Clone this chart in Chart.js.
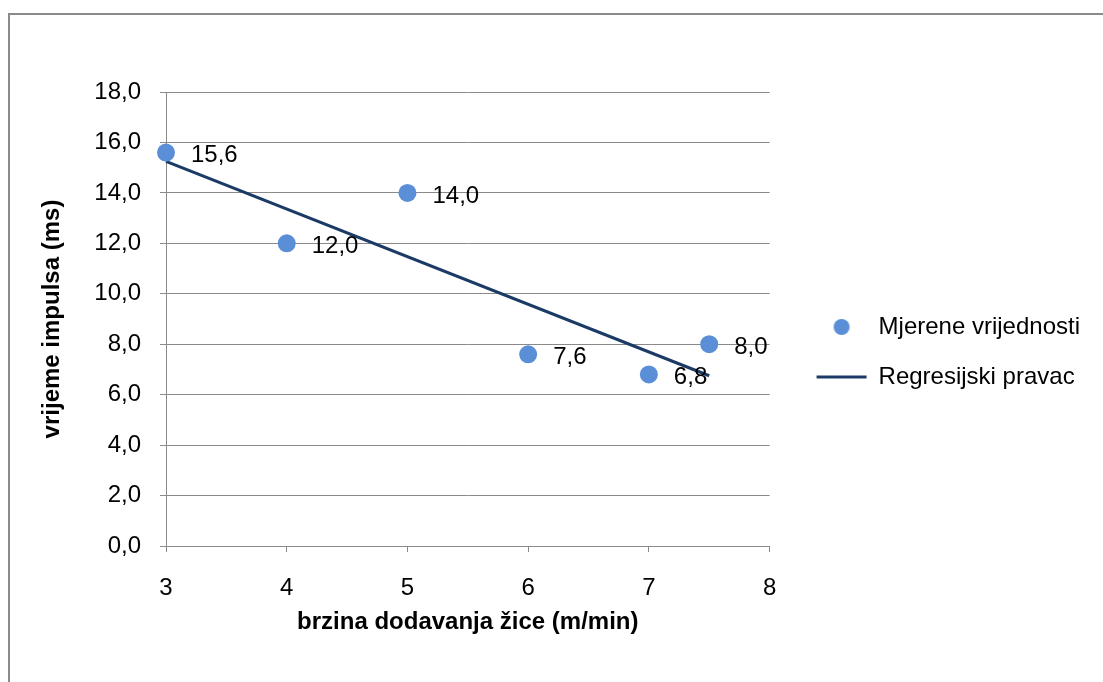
<!DOCTYPE html>
<html>
<head>
<meta charset="utf-8">
<script src="https://cdn.jsdelivr.net/npm/chart.js@4"></script>
<style>
  html, body { margin: 0; padding: 0; background: #fff; overflow: hidden; }
  #frame {
    position: absolute; left: 8px; top: 13px; width: 1100px; height: 700px;
    border: 2px solid #8a8a8a; box-sizing: border-box;
  }
  #wrap { position: absolute; left: 0; top: 0; width: 1103px; height: 682px; overflow: hidden; }
</style>
</head>
<body>
<div id="frame"></div>
<div id="wrap"><canvas id="chart" width="1090" height="682"></canvas></div>
<script>
// measured points
const xValues = [3, 4, 5, 6, 7, 7.5];
const yValues = [15.6, 12.0, 14.0, 7.6, 6.8, 8.0];
// regression line end points
const regX = [3, 7.5];
const regY = [15.25, 6.75];

const xTickLabels = ["3", "4", "5", "6", "7", "8"];
const yTickLabels = ["0,0", "2,0", "4,0", "6,0", "8,0", "10,0", "12,0", "14,0", "16,0", "18,0"];

const seriesNames = ["Mjerene vrijednosti", "Regresijski pravac"];

const FONT = "'Liberation Sans', Arial, sans-serif";
const FS = 24;
const gridColor = "#8a8a8a";
const dotColor = "#5a8fd7";
const lineColor = "#1b3a66";

// little dot used as the legend marker of the scatter series
const dot = document.createElement("canvas");
dot.width = 18;
dot.height = 18;
const dctx = dot.getContext("2d");
dctx.fillStyle = dotColor;
dctx.beginPath();
dctx.arc(9, 9, 8, 0, Math.PI * 2);
dctx.fill();

// draws "15,6" style labels to the right of each point
const valueLabels = {
  id: "valueLabels",
  afterDatasetsDraw(chart) {
    const ctx = chart.ctx;
    const meta = chart.getDatasetMeta(0);
    ctx.save();
    ctx.font = FS + "px " + FONT;
    ctx.fillStyle = "#000";
    ctx.textAlign = "left";
    ctx.textBaseline = "middle";
    meta.data.forEach((pt, i) => {
      ctx.fillText(yValues[i].toFixed(1).replace(".", ","), pt.x + 25, pt.y + 3);
    });
    ctx.restore();
  },
};

const ctx = document.getElementById("chart").getContext("2d");
const chart = new Chart(ctx, {
  type: "scatter",
  data: {
    datasets: [
      {
        label: seriesNames[0],
        data: xValues.map((x, i) => ({ x: x, y: yValues[i] })),
        backgroundColor: dotColor,
        borderWidth: 0,
        pointRadius: 9,
        pointHoverRadius: 9,
        clip: false,
        order: 1,
      },
      {
        label: seriesNames[1],
        type: "line",
        data: regX.map((x, i) => ({ x: x, y: regY[i] })),
        borderColor: lineColor,
        backgroundColor: lineColor,
        borderWidth: 3,
        pointRadius: 0,
        fill: false,
        clip: false,
        order: 2,
      },
    ],
  },
  options: {
    responsive: false,
    animation: false,
    layout: { padding: { top: 92, right: 0, bottom: 70, left: 0 } },
    plugins: {
      tooltip: { enabled: false },
      legend: {
        position: "right",
        align: "center",
        maxWidth: 400,
        labels: {
          usePointStyle: true,
          pointStyleWidth: 50,
          padding: 26,
          color: "#000",
          font: { family: FONT, size: FS },
          generateLabels(chart) {
            const items = Chart.defaults.plugins.legend.labels.generateLabels(chart);
            items[0].pointStyle = dot;
            items[1].pointStyle = "line";
            items[1].lineWidth = 3;
            items[1].strokeStyle = lineColor;
            return items;
          },
        },
      },
    },
    scales: {
      x: {
        type: "linear",
        min: 3,
        max: 8,
        afterFit(scale) { scale.height = 66; },
        ticks: {
          stepSize: 1,
          padding: 22,
          color: "#000",
          font: { family: FONT, size: FS },
          callback: (v, i) => xTickLabels[i],
        },
        grid: { drawOnChartArea: false, drawTicks: true, tickLength: 6, color: gridColor },
        border: { display: true, color: gridColor },
        title: {
          display: true,
          text: "brzina dodavanja žice (m/min)",
          color: "#000",
          font: { family: FONT, size: FS, weight: "bold" },
          padding: { top: 0, bottom: -25 },
        },
      },
      y: {
        min: 0,
        max: 18,
        afterFit(scale) { scale.width = 166; },
        ticks: {
          stepSize: 2,
          padding: 19,
          color: "#000",
          font: { family: FONT, size: FS },
          callback: (v, i) => yTickLabels[i],
        },
        grid: { drawTicks: true, tickLength: 6, color: gridColor },
        border: { display: true, color: gridColor },
        title: {
          display: true,
          text: "vrijeme impulsa (ms)",
          color: "#000",
          font: { family: FONT, size: FS, weight: "bold" },
          padding: { top: 38, bottom: 0 },
        },
      },
      // empty axis, only keeps a gap between plot and legend
      gap: {
        type: "linear",
        position: "right",
        display: true,
        afterFit(scale) { scale.width = 21; },
        ticks: { display: false },
        grid: { display: false },
        border: { display: false },
      },
    },
  },
  plugins: [valueLabels],
});
</script>
</body>
</html>
